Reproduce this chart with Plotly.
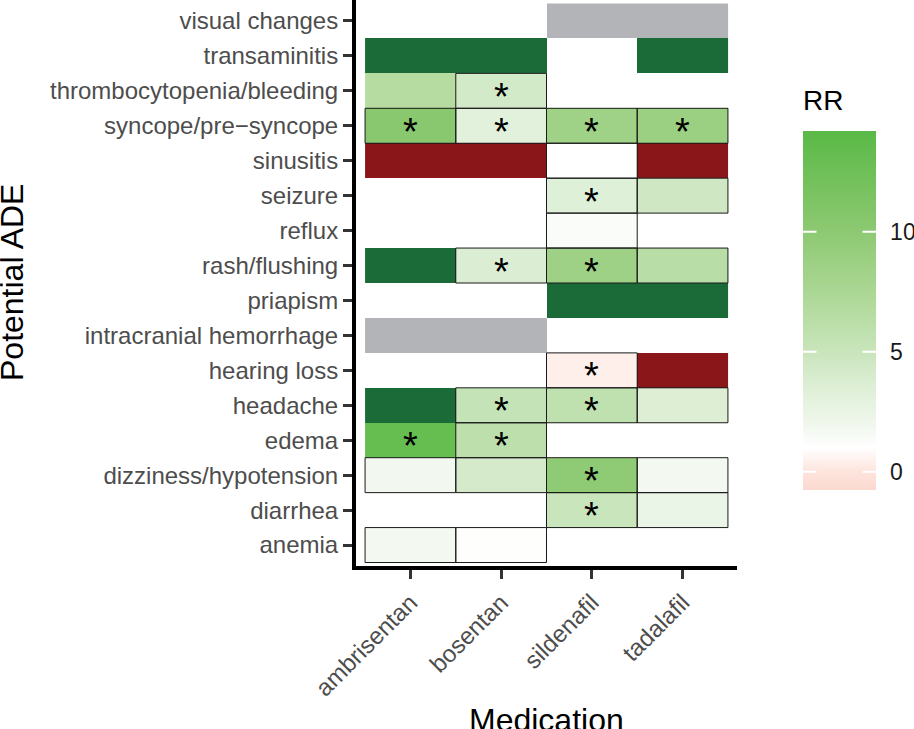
import math
import plotly.graph_objects as go

INF = float("inf")
NEGINF = float("-inf")
NA = float("nan")

medications = ["ambrisentan", "bosentan", "sildenafil", "tadalafil"]
ades = ["anemia", "diarrhea", "dizziness/hypotension", "edema", "headache",
        "hearing loss", "intracranial hemorrhage", "priapism", "rash/flushing",
        "reflux", "seizure", "sinusitis", "syncope/pre\u2212syncope",
        "thrombocytopenia/bleeding", "transaminitis", "visual changes"]

# RR per medication, in the order of `ades` (None = no data)
rr_ambrisentan = [1.8, None, 1.9, 13.2, INF, None, NA, None, INF, None, None, NEGINF, 10.3, 6.6, INF, None]
rr_bosentan    = [1.1, None, 4.2, 6.0, 5.4, None, NA, None, 3.7, None, None, NEGINF, 3.2, 4.3, INF, None]
rr_sildenafil  = [None, 5.0, 9.8, None, 5.8, 0.4, None, INF, 8.6, 1.4, 3.4, 1.0, 8.5, None, None, NA]
rr_tadalafil   = [None, 2.4, 1.8, None, 3.6, NEGINF, None, INF, 6.4, None, 4.6, NEGINF, 8.8, None, INF, NA]

# significance (asterisk) flags
sig_ambrisentan = [0, 0, 0, 1, 0, 0, 0, 0, 0, 0, 0, 0, 1, 0, 0, 0]
sig_bosentan    = [0, 0, 0, 1, 1, 0, 0, 0, 1, 0, 0, 0, 1, 1, 0, 0]
sig_sildenafil  = [0, 1, 1, 0, 1, 1, 0, 0, 1, 0, 1, 0, 1, 0, 0, 0]
sig_tadalafil   = [0, 0, 0, 0, 0, 0, 0, 0, 0, 0, 0, 0, 1, 0, 0, 0]

# outlined tiles
outline_ambrisentan = [1, 0, 1, 0, 0, 0, 0, 0, 0, 0, 0, 0, 1, 0, 0, 0]
outline_bosentan    = [1, 0, 1, 1, 1, 0, 0, 0, 1, 0, 0, 0, 1, 1, 0, 0]
outline_sildenafil  = [0, 1, 1, 0, 1, 1, 0, 0, 1, 1, 1, 1, 1, 0, 0, 0]
outline_tadalafil   = [0, 1, 1, 0, 1, 0, 0, 0, 1, 0, 1, 0, 1, 0, 0, 0]

legend_ticks = [0, 5, 10]

rr_cols = [rr_ambrisentan, rr_bosentan, rr_sildenafil, rr_tadalafil]
sig_cols = [sig_ambrisentan, sig_bosentan, sig_sildenafil, sig_tadalafil]
outline_cols = [outline_ambrisentan, outline_bosentan, outline_sildenafil, outline_tadalafil]

ZMIN, ZMAX = -0.76, 14.2
anchors = [(-0.76, "#fbd9cf"), (0, "#fde4dd"), (1, "#ffffff"), (2, "#f0f7ed"),
           (3.5, "#deefd6"), (5, "#c9e5bc"), (7.5, "#abd794"), (10, "#8dc972"),
           (14.2, "#5ab946")]
colorscale = [[(v - ZMIN) / (ZMAX - ZMIN), c] for v, c in anchors]

FONT = "Liberation Sans"
W, H = 914, 729
ML, MR, MT, MB = 356, 177, 0, 163
PW, PH = W - ML - MR, H - MT - MB

# colour bar geometry (paper units)
CB_X = (803 - ML) / PW
CB_THICK = 73
CB_BOTTOM = (PH - 490) / PH
CB_BARLEN = 359 / PH


def grid(pred):
    z = []
    for i in range(len(ades)):
        row = []
        for j in range(len(medications)):
            row.append(pred(rr_cols[j][i]))
        z.append(row)
    return z


z_num = grid(lambda v: v if (v is not None and math.isfinite(v)) else None)
z_inf = grid(lambda v: 1 if (v is not None and v == INF) else None)
z_neg = grid(lambda v: 1 if (v is not None and v == NEGINF) else None)
z_na = grid(lambda v: 1 if (v is not None and isinstance(v, float) and math.isnan(v)) else None)

fig = go.Figure()
fig.add_trace(go.Heatmap(
    x=medications, y=ades, z=z_num, zmin=ZMIN, zmax=ZMAX, colorscale=colorscale,
    hoverongaps=False,
    colorbar=dict(
        x=CB_X, xanchor="left", xref="paper",
        y=CB_BOTTOM, yanchor="bottom", len=CB_BARLEN, lenmode="fraction",
        thickness=CB_THICK, xpad=0, ypad=0, outlinewidth=0,
        tickvals=legend_ticks, ticktext=[str(t) for t in legend_ticks],
        ticks="outside", ticklen=10, tickwidth=1, tickcolor="#ffffff",
        tickfont=dict(size=23, color="#1a1a1a", family=FONT),
    ),
))
for zz, col in [(z_inf, "#1a6b37"), (z_neg, "#8a1619"), (z_na, "#b3b4b7")]:
    fig.add_trace(go.Heatmap(x=medications, y=ades, z=zz, showscale=False,
                             colorscale=[[0, col], [1, col]], zmin=0, zmax=1,
                             hoverongaps=False))

shapes = []
for j, med in enumerate(medications):
    for i, ade in enumerate(ades):
        if outline_cols[j][i]:
            shapes.append(dict(type="rect", xref="x", yref="y",
                               x0=j - 0.5, x1=j + 0.5, y0=i - 0.5, y1=i + 0.5,
                               line=dict(color="#1a1a1a", width=1), fillcolor="rgba(0,0,0,0)",
                               layer="above"))

annotations = []
for j, med in enumerate(medications):
    for i, ade in enumerate(ades):
        if sig_cols[j][i]:
            annotations.append(dict(x=med, y=ade, xref="x", yref="y", text="*",
                                    showarrow=False, yshift=-6,
                                    font=dict(size=38, color="#000000", family=FONT)))

# white tick marks drawn inside the colour bar, on both sides
cb_w = CB_THICK / PW
for t in legend_ticks:
    yy = CB_BOTTOM + (t - ZMIN) / (ZMAX - ZMIN) * CB_BARLEN
    for xa, axp in [(CB_X, 15), (CB_X + cb_w, -15)]:
        annotations.append(dict(x=xa, y=yy, xref="paper", yref="paper", text="",
                                showarrow=True, arrowhead=0, arrowwidth=2,
                                arrowcolor="#ffffff", ax=axp, ay=0, standoff=0,
                                startstandoff=0))

annotations += [
    dict(text="RR", xref="paper", yref="paper", x=CB_X, y=(PH - 118) / PH,
         xanchor="left", yanchor="bottom", showarrow=False, xshift=-2,
         font=dict(size=28, color="#000000", family=FONT)),
    dict(text="Potential ADE", xref="paper", yref="paper", x=(12 - ML) / PW, y=0.5,
         xanchor="center", yanchor="middle", textangle=-90, showarrow=False,
         font=dict(size=32, color="#000000", family=FONT)),
    dict(text="Medication", xref="paper", yref="paper", x=(546 - ML) / PW, y=-(700 - PH) / PH,
         xanchor="center", yanchor="top", showarrow=False,
         font=dict(size=32, color="#000000", family=FONT)),
]

axis_common = dict(showgrid=False, zeroline=False, showline=True, linecolor="#000000",
                   linewidth=4, ticks="outside", ticklen=9, tickwidth=3, tickcolor="#333333",
                   tickfont=dict(size=24, color="#4d4d4d", family=FONT))

fig.update_layout(
    width=W, height=H,
    margin=dict(l=ML, r=MR, t=MT, b=MB, autoexpand=False),
    paper_bgcolor="#ffffff", plot_bgcolor="#ffffff",
    shapes=shapes, annotations=annotations,
    showlegend=False,
    xaxis=dict(type="category", categoryorder="array", categoryarray=medications,
               range=[-0.6, 3.6], tickangle=-45, **axis_common),
    yaxis=dict(type="category", categoryorder="array", categoryarray=ades,
               range=[-0.6, 15.6], **axis_common),
)

fig.write_html("out.html", config={"displayModeBar": False},
               post_script="document.body.style.margin='0';")
